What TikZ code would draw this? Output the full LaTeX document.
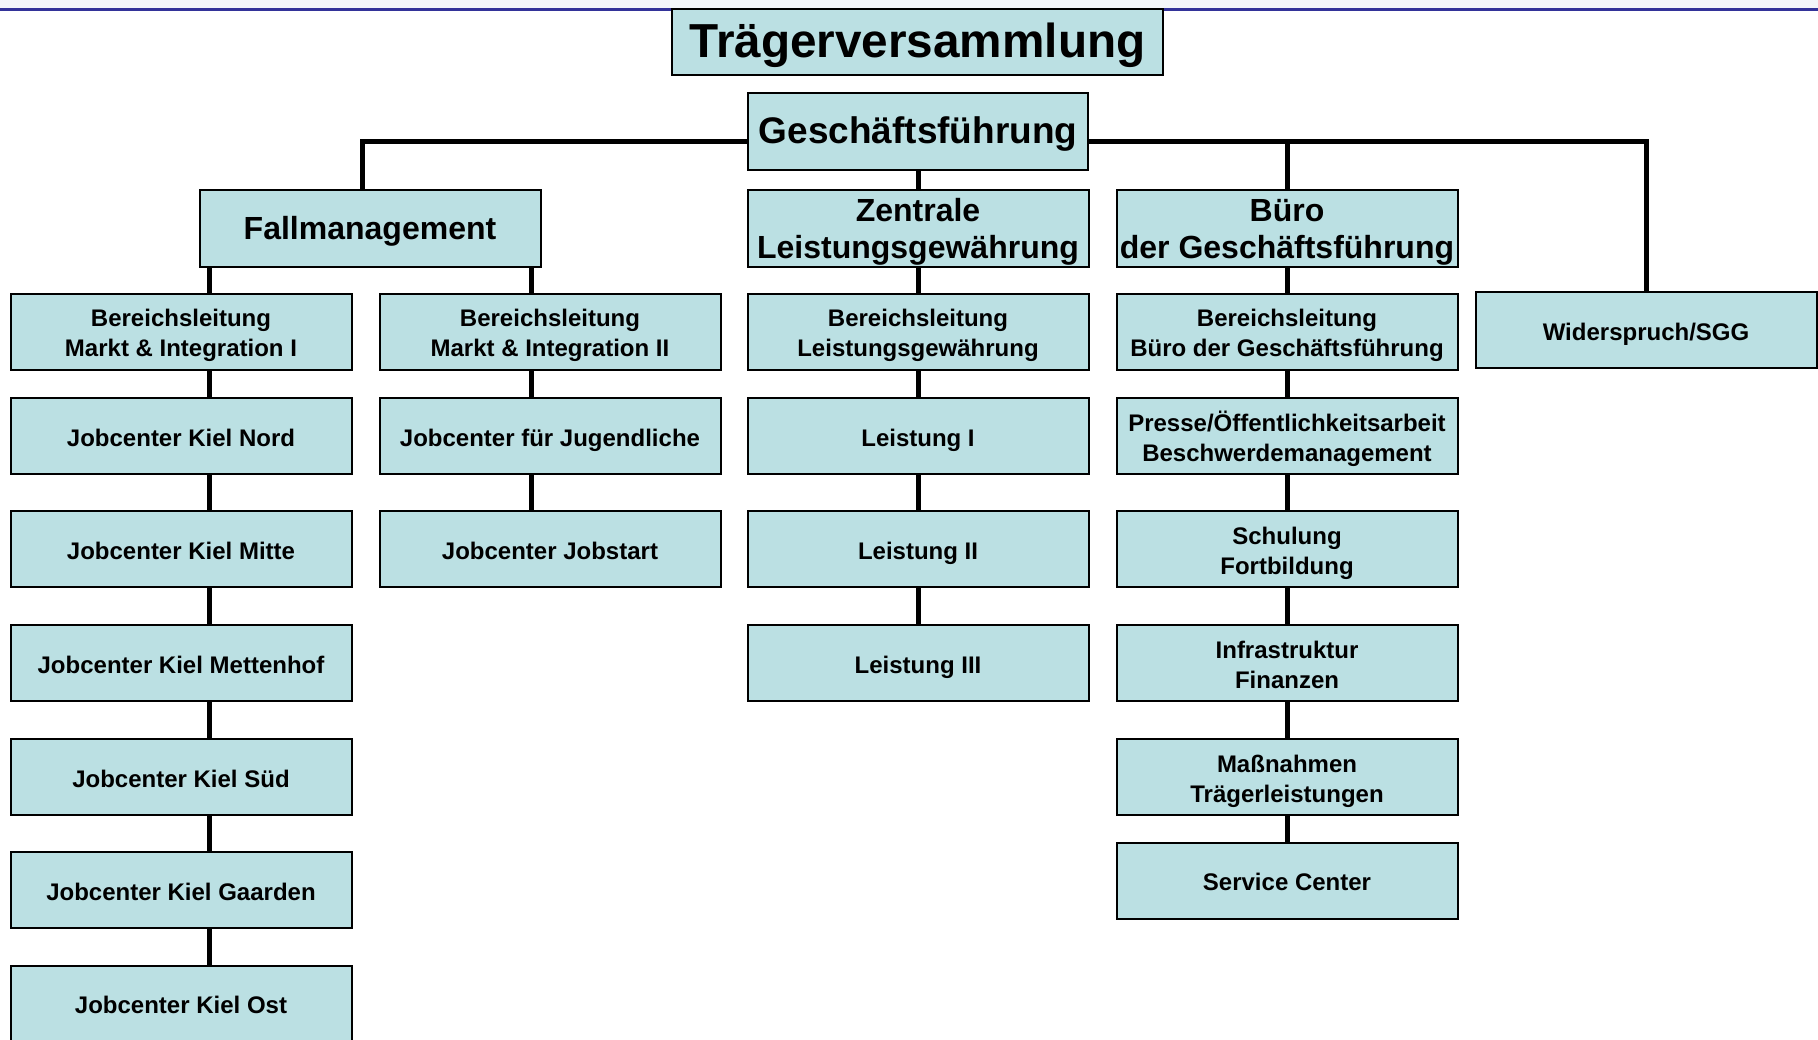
\documentclass[tikz,border=0pt]{standalone}
\usepackage{fontspec}
\setmainfont{Liberation Sans}
\usetikzlibrary{backgrounds}
\definecolor{boxfill}{RGB}{187,224,227}
\definecolor{topline}{RGB}{51,51,153}
\definecolor{topstrip}{RGB}{244,247,250}
\newcommand\bxt[2][4pt]{\raisebox{-#1}[\height][\depth]{\begin{tabular}{@{}c@{}}#2\end{tabular}}}
\tikzset{
  box/.style={draw=black, line width=2pt, fill=boxfill, minimum width=341pt, minimum height=76pt, inner sep=0pt,
    font=\fontsize{24}{30}\selectfont\bfseries},
  headbox/.style={box, minimum height=77pt, font=\fontsize{32}{37}\selectfont\bfseries},
  conn/.style={draw=black, line width=5pt},
}
\begin{document}
\begin{tikzpicture}[x=1pt,y=-1pt]
\useasboundingbox (0,0) rectangle (1818,1040);
\clip (0,0) rectangle (1818,1040);
\fill[topstrip] (0,0) rectangle (1818,9);
\draw[topline, line width=3pt] (0,10) -- (1818,10);

\node[box, minimum width=491pt, minimum height=66pt, font=\fontsize{47.7}{52}\selectfont\bfseries] (tv) at (917.5,42) {\bxt[5.5pt]{Trägerversammlung}};
\node[headbox, minimum width=340pt, font=\fontsize{37}{42}\selectfont\bfseries] (gf) at (918,131.5) {\bxt[3.5pt]{Geschäftsführung}};

\node[headbox] (fm) at (370,228.5) {\bxt{Fallmanagement}};
\node[headbox] (zl) at (918,228.5) {\bxt{Zentrale\\Leistungsgewährung}};
\node[headbox] (bu) at (1287,228.5) {\bxt{Büro\\der Geschäftsführung}};

% column 1
\node[box] (bl1) at (181,332) {\bxt{Bereichsleitung\\Markt \& Integration I}};
\node[box] (nord) at (181,436) {\bxt{Jobcenter Kiel Nord}};
\node[box] (mitte) at (181,549) {\bxt{Jobcenter Kiel Mitte}};
\node[box] (mett) at (181,663) {\bxt{Jobcenter Kiel Mettenhof}};
\node[box] (sued) at (181,777) {\bxt{Jobcenter Kiel Süd}};
\node[box] (gaar) at (181,890) {\bxt{Jobcenter Kiel Gaarden}};
\node[box] (ost) at (181,1003.5) {\bxt{Jobcenter Kiel Ost}};

% column 2
\node[box] (bl2) at (550,332) {\bxt{Bereichsleitung\\Markt \& Integration II}};
\node[box] (jug) at (550,436) {\bxt{Jobcenter für Jugendliche}};
\node[box] (jobst) at (550,549) {\bxt{Jobcenter Jobstart}};

% column 3
\node[box] (bl3) at (918,332) {\bxt{Bereichsleitung\\Leistungsgewährung}};
\node[box] (l1) at (918,436) {\bxt{Leistung I}};
\node[box] (l2) at (918,549) {\bxt{Leistung II}};
\node[box] (l3) at (918,663) {\bxt{Leistung III}};

% column 4
\node[box] (bl4) at (1287,332) {\bxt{Bereichsleitung\\Büro der Geschäftsführung}};
\node[box] (presse) at (1287,436) {\bxt{Presse/Öffentlichkeitsarbeit\\Beschwerdemanagement}};
\node[box] (schul) at (1287,549) {\bxt{Schulung\\Fortbildung}};
\node[box] (infra) at (1287,663) {\bxt{Infrastruktur\\Finanzen}};
\node[box] (mass) at (1287,777) {\bxt{Maßnahmen\\Trägerleistungen}};
\node[box] (serv) at (1287,880.5) {\bxt{Service Center}};

% column 5
\node[box] (wid) at (1646,330.5) {\bxt{Widerspruch/SGG}};

\coordinate (xa) at (209,0);
\coordinate (xb) at (531,0);
\coordinate (barL) at (362,142);
\coordinate (barR) at (1646,142);

\begin{scope}[on background layer]
  \draw[conn] (barL |- fm.north) -- (barL) -- (barR) -- (barR |- wid.north);
  \draw[conn] (bu.north) -- (bu.north |- barL);
  \draw[conn] (gf.south) -- (zl.north);
  % Fallmanagement branches
  \draw[conn] (fm.south -| xa) -- (bl1.north -| xa);
  \draw[conn] (fm.south -| xb) -- (bl2.north -| xb);
  % column 1 chain
  \draw[conn] (bl1.south -| xa) -- (nord.north -| xa);
  \draw[conn] (nord.south -| xa) -- (mitte.north -| xa);
  \draw[conn] (mitte.south -| xa) -- (mett.north -| xa);
  \draw[conn] (mett.south -| xa) -- (sued.north -| xa);
  \draw[conn] (sued.south -| xa) -- (gaar.north -| xa);
  \draw[conn] (gaar.south -| xa) -- (ost.north -| xa);
  % column 2 chain
  \draw[conn] (bl2.south -| xb) -- (jug.north -| xb);
  \draw[conn] (jug.south -| xb) -- (jobst.north -| xb);
  % column 3 chain
  \draw[conn] (zl.south) -- (bl3.north);
  \draw[conn] (bl3.south) -- (l1.north);
  \draw[conn] (l1.south) -- (l2.north);
  \draw[conn] (l2.south) -- (l3.north);
  % column 4 chain
  \draw[conn] (bu.south) -- (bl4.north);
  \draw[conn] (bl4.south) -- (presse.north);
  \draw[conn] (presse.south) -- (schul.north);
  \draw[conn] (schul.south) -- (infra.north);
  \draw[conn] (infra.south) -- (mass.north);
  \draw[conn] (mass.south) -- (serv.north);
\end{scope}
\end{tikzpicture}
\end{document}
